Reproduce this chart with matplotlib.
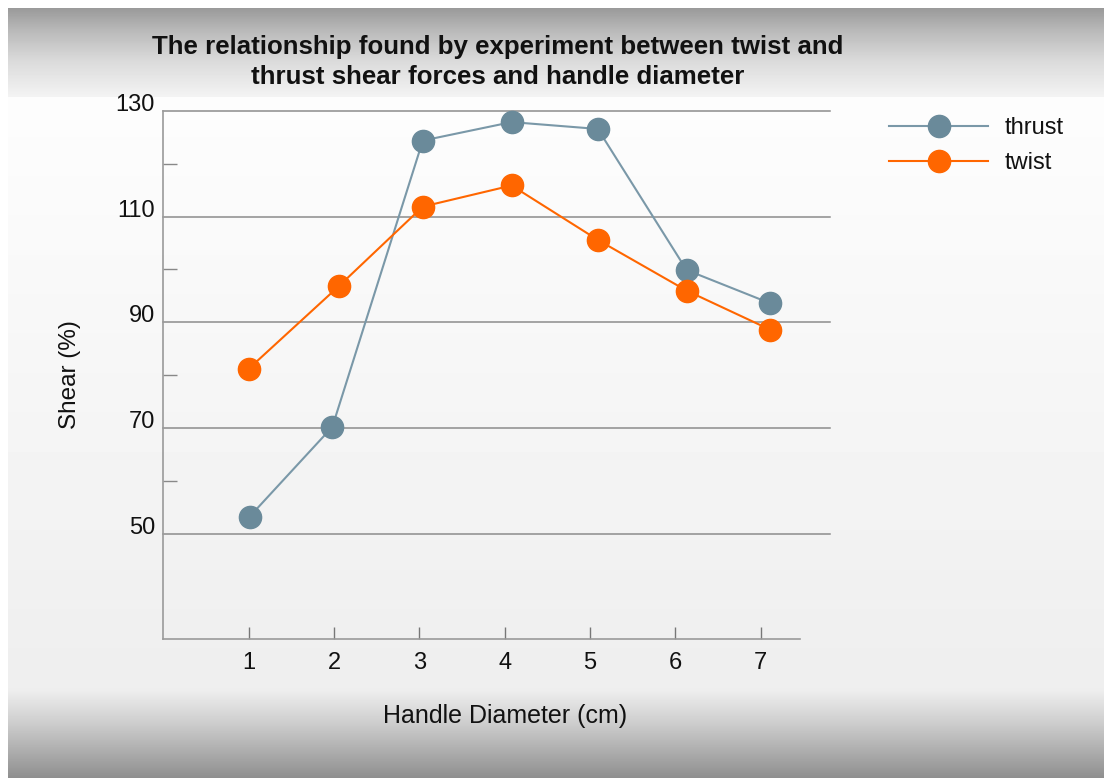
import numpy as np
import matplotlib
matplotlib.use('Agg')
import matplotlib.pyplot as plt

plt.rcParams['font.family'] = ['Liberation Sans', 'DejaVu Sans']

# data
diameters = [1, 2, 3, 4, 5, 6, 7]
thrust_x = [1.01, 1.98, 3.04, 4.08, 5.09, 6.13, 7.11]
thrust = [53.2, 70.2, 124.4, 127.9, 126.6, 99.9, 93.6]
twist_x = [1.0, 2.06, 3.04, 4.08, 5.09, 6.13, 7.11]
twist = [81.2, 96.9, 111.9, 115.9, 105.6, 96.0, 88.6]
major_y = [50, 70, 90, 110, 130]
minor_y = [60, 80, 100, 120]

title = ('The relationship found by experiment between twist and\n'
         'thrust shear forces and handle diameter')

W, H = 1104, 778
fig = plt.figure(figsize=(W / 100, H / 100), dpi=100)

# background: grey bands top and bottom, white frame on left/top edge
rows = np.arange(H)
shade = np.interp(rows, [0, 7.9, 8, 30, 60, 96, 97, 690, 720, 778],
                  [255, 255, 154, 185, 218, 243, 253, 238, 208, 142])
bg = np.tile(shade[:, None], (1, W))
bg[:, :8] = 255
bg_ax = fig.add_axes([0, 0, 1, 1], zorder=-10)
bg_ax.imshow(bg, cmap='gray', vmin=0, vmax=255, aspect='auto',
             interpolation='nearest')
bg_ax.axis('off')

left, right, top, bottom = 163.3, 830, 111, 639.3
ax = fig.add_axes([left / W, 1 - bottom / H, (right - left) / W, (bottom - top) / H])
ax.set_facecolor('none')
ax.set_xlim(0, 7.81)
ax.set_ylim(30, 130)

for s in ['top', 'right']:
    ax.spines[s].set_visible(False)
for s in ['left', 'bottom']:
    ax.spines[s].set_color('#9a9a9a')
    ax.spines[s].set_linewidth(1.2)
ax.spines['bottom'].set_bounds(0, 7.46)

ax.set_yticks(major_y)
ax.set_yticks(minor_y, minor=True)
ax.yaxis.grid(True, which='major', color='#8c8c8c', lw=1.1)
for gl in ax.get_ygridlines():
    gl.set_clip_on(False)
ax.tick_params(axis='y', which='major', length=0, pad=6, labelsize=17,
               labelcolor='#111111')
ax.tick_params(axis='y', which='minor', direction='in', length=10,
               width=1, color='#888888')
plt.setp(ax.get_yticklabels(), va='baseline')

ax.set_xticks(diameters)
ax.set_xticklabels([str(d) for d in diameters])
ax.tick_params(axis='x', direction='in', length=8.6, width=1, color='#777777',
               pad=9.5, labelsize=17, labelcolor='#111111')

l1, = ax.plot(thrust_x, thrust, '-o', color='#7a98a8', lw=1.5, ms=16,
              mfc='#6a8a9a', mec='#6a8a9a', clip_on=False, zorder=3,
              label='thrust')
l2, = ax.plot(twist_x, twist, '-o', color='#ff6600', lw=1.5, ms=16,
              mfc='#ff6600', mec='#ff6600', clip_on=False, zorder=4,
              label='twist')

ax.text((505 - left) / (right - left), (bottom - 716) / (bottom - top),
        'Handle Diameter (cm)', transform=ax.transAxes, ha='center',
        va='center', fontsize=18, color='#111111')
ax.text((70 - left) / (right - left), (bottom - 375) / (bottom - top),
        'Shear (%)', transform=ax.transAxes, ha='center', va='center',
        rotation=90, fontsize=17.5, color='#111111')

fig.text(498 / W, 1 - 62 / H, title, ha='center', va='center',
         fontsize=18.6, fontweight='bold', linespacing=1.32, color='#111111')

fig.legend(handles=[l1, l2], loc='upper left',
           bbox_to_anchor=(889 / W, 1 - 117 / H), frameon=False,
           borderpad=0, borderaxespad=0, handlelength=4.2, handletextpad=0.68,
           labelspacing=0.57, fontsize=17, labelcolor='#111111')

fig.savefig('out.png', dpi=100)
